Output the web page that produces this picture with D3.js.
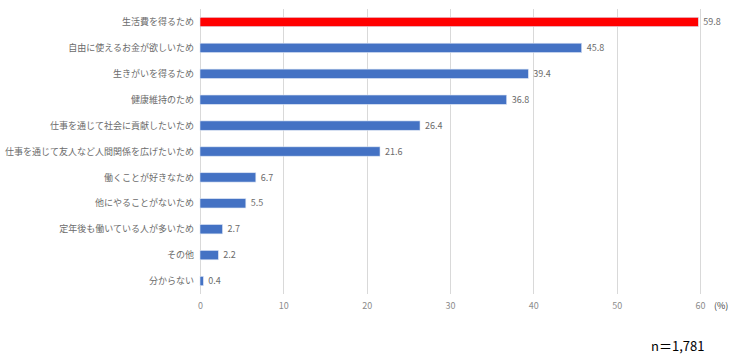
<!DOCTYPE html>
<html><head><meta charset="utf-8">
<script src="https://cdn.jsdelivr.net/npm/d3@7"></script>
<style>body{margin:0;background:#fff;}svg{display:block;}</style>
</head><body>
<svg id="c" width="740" height="357"></svg>
<script>
const categories = ["生活費を得るため","自由に使えるお金が欲しいため","生きがいを得るため","健康維持のため","仕事を通じて社会に貢献したいため","仕事を通じて友人など人間関係を広げたいため","働くことが好きなため","他にやることがないため","定年後も働いている人が多いため","その他","分からない"];
const values = [59.8,45.8,39.4,36.8,26.4,21.6,6.7,5.5,2.7,2.2,0.4];
const ticks = [0,10,20,30,40,50,60];
const highlight = ["生活費を得るため"];

const svg = d3.select("#c");
const font = "'Noto Sans CJK JP','Noto Sans',sans-serif";
const x = d3.scaleLinear().domain([0,60]).range([200,700]);
const y = d3.scaleBand().domain(categories).range([9,294]).paddingInner(0.64).paddingOuter(0.32);

// gridlines
svg.append("g").selectAll("line").data(ticks).join("line")
  .attr("x1",d=>Math.round(x(d))+0.5).attr("x2",d=>Math.round(x(d))+0.5).attr("y1",9).attr("y2",294)
  .attr("stroke","#d9d9d9").attr("stroke-width",1);

// bars
svg.append("g").selectAll("rect").data(categories).join("rect")
  .attr("x",x(0)).attr("y",d=>y(d))
  .attr("width",(d,i)=>x(values[i])-x(0)).attr("height",y.bandwidth())
  .attr("fill",d=>highlight.includes(d)?"#ff0000":"#4472c4")
  .attr("stroke","#dbe3f3").attr("stroke-width",0.6);

// value labels
svg.append("g").selectAll("text").data(categories).join("text")
  .attr("x",(d,i)=>x(values[i])+5).attr("y",d=>y(d)+y.bandwidth()/2)
  .attr("dy","0.35em").attr("font-family",font).attr("font-size",9)
  .attr("fill","#6b6b6b").text((d,i)=>values[i].toFixed(1));

// category labels
svg.append("g").selectAll("text").data(categories).join("text")
  .attr("x",194).attr("y",d=>y(d)+y.bandwidth()/2)
  .attr("dy","0.35em").attr("text-anchor","end").attr("font-family",font).attr("font-size",9)
  .attr("fill","#6b6b6b").text(d=>d);

// x axis tick labels
const ax = d3.axisBottom(x).tickValues(ticks).tickSize(0).tickPadding(6);
const g = svg.append("g").attr("transform","translate(0,298)").call(ax);
g.select(".domain").remove();
g.selectAll("text").attr("font-family",font).attr("font-size",9).attr("fill","#8c8c8c").attr("dy","0.35em").attr("y",8);

svg.append("text").attr("x",714).attr("y",306).attr("dy","0.35em")
  .attr("font-family",font).attr("font-size",9).attr("fill","#404040").text("(%)");

svg.append("text").attr("x",651).attr("y",346).attr("dy","0.35em")
  .attr("font-family",font).attr("font-size",13).attr("fill","#000").text("n＝1,781");
</script>
</body></html>
